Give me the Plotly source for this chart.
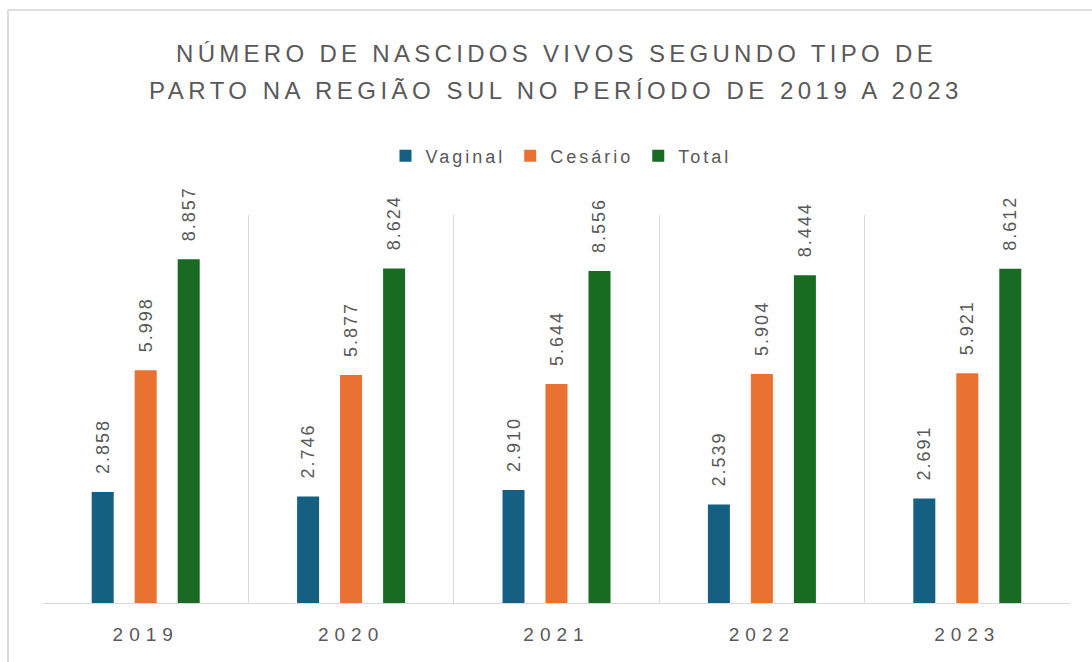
import plotly.graph_objects as go

anos = ["2019", "2020", "2021", "2022", "2023"]
vaginal = [2858, 2746, 2910, 2539, 2691]
cesario = [5998, 5877, 5644, 5904, 5921]
total = [8857, 8624, 8556, 8444, 8612]

series = [
    ("Vaginal", vaginal, "#156082"),
    ("Cesário", cesario, "#E97132"),
    ("Total", total, "#196B24"),
]

GRAY = "#595959"
GRID = "#d9d9d9"

def fmt(v):
    return f"{v:,}".replace(",", ".")

def spaced(s, px):
    return f"<span style='letter-spacing:{px}px'>{s}</span>"

fig = go.Figure()
for name, vals, color in series:
    fig.add_trace(go.Bar(
        x=anos, y=vals, name=spaced(name, 3),
        marker=dict(color=color, line=dict(width=0)),
        text=[fmt(v) for v in vals],
        texttemplate="\u00a0\u00a0\u00a0" + spaced("%{text}", 2),
        textposition="outside",
        textangle=-90,
        constraintext="none",
        cliponaxis=False,
        textfont=dict(family="Liberation Sans, Arial, sans-serif", size=18, color=GRAY),
    ))

L, R, T, B = 43, 22, 215, 59
W, H = 1092, 662
pw, ph = W - L - R, H - T - B

def px_x(x):
    return (x - L) / pw

def px_y(y):
    return (H - B - y) / ph

fig.add_annotation(
    text=spaced("NÚMERO DE NASCIDOS VIVOS SEGUNDO TIPO DE", 4.3),
    xref="paper", yref="paper", x=px_x(556), y=px_y(54),
    xanchor="center", yanchor="middle", showarrow=False,
    font=dict(family="Liberation Sans, Arial, sans-serif", size=24, color=GRAY),
)
fig.add_annotation(
    text=spaced("PARTO NA REGIÃO SUL NO PERÍODO DE 2019 A 2023", 4.5),
    xref="paper", yref="paper", x=px_x(556), y=px_y(90),
    xanchor="center", yanchor="middle", showarrow=False,
    font=dict(family="Liberation Sans, Arial, sans-serif", size=24, color=GRAY),
)

fig.add_shape(
    type="rect", xref="paper", yref="paper",
    x0=px_x(8), x1=px_x(1110), y0=px_y(680), y1=px_y(10),
    line=dict(color="#d4d4d4", width=1.5), fillcolor="rgba(0,0,0,0)", layer="below",
)

fig.update_layout(
    width=W, height=H,
    margin=dict(l=L, r=R, t=T, b=B, pad=0),
    paper_bgcolor="white", plot_bgcolor="white",
    barmode="group", bargap=0.372, bargroupgap=0.488,
    showlegend=True,
    legend=dict(
        orientation="h", x=px_x(561), xanchor="center", y=px_y(156), yanchor="middle",
        font=dict(family="Liberation Sans, Arial, sans-serif", size=18, color=GRAY),
        itemwidth=30, bgcolor="rgba(0,0,0,0)",
    ),
    xaxis=dict(
        type="category",
        tickmode="array", tickvals=anos, ticktext=[spaced(a, 6) for a in anos],
        tickson="boundaries", showgrid=True, gridcolor=GRID, gridwidth=1,
        showline=True, linecolor=GRID, linewidth=1,
        ticks="", ticklabelstandoff=14,
        tickfont=dict(family="Liberation Sans, Arial, sans-serif", size=19, color=GRAY),
    ),
    yaxis=dict(range=[0, 10000], showgrid=False, zeroline=False,
               showticklabels=False, showline=False, ticks=""),
)

fig.write_html("out.html", config={"displayModeBar": False},
               post_script="document.body.style.margin='0';")
